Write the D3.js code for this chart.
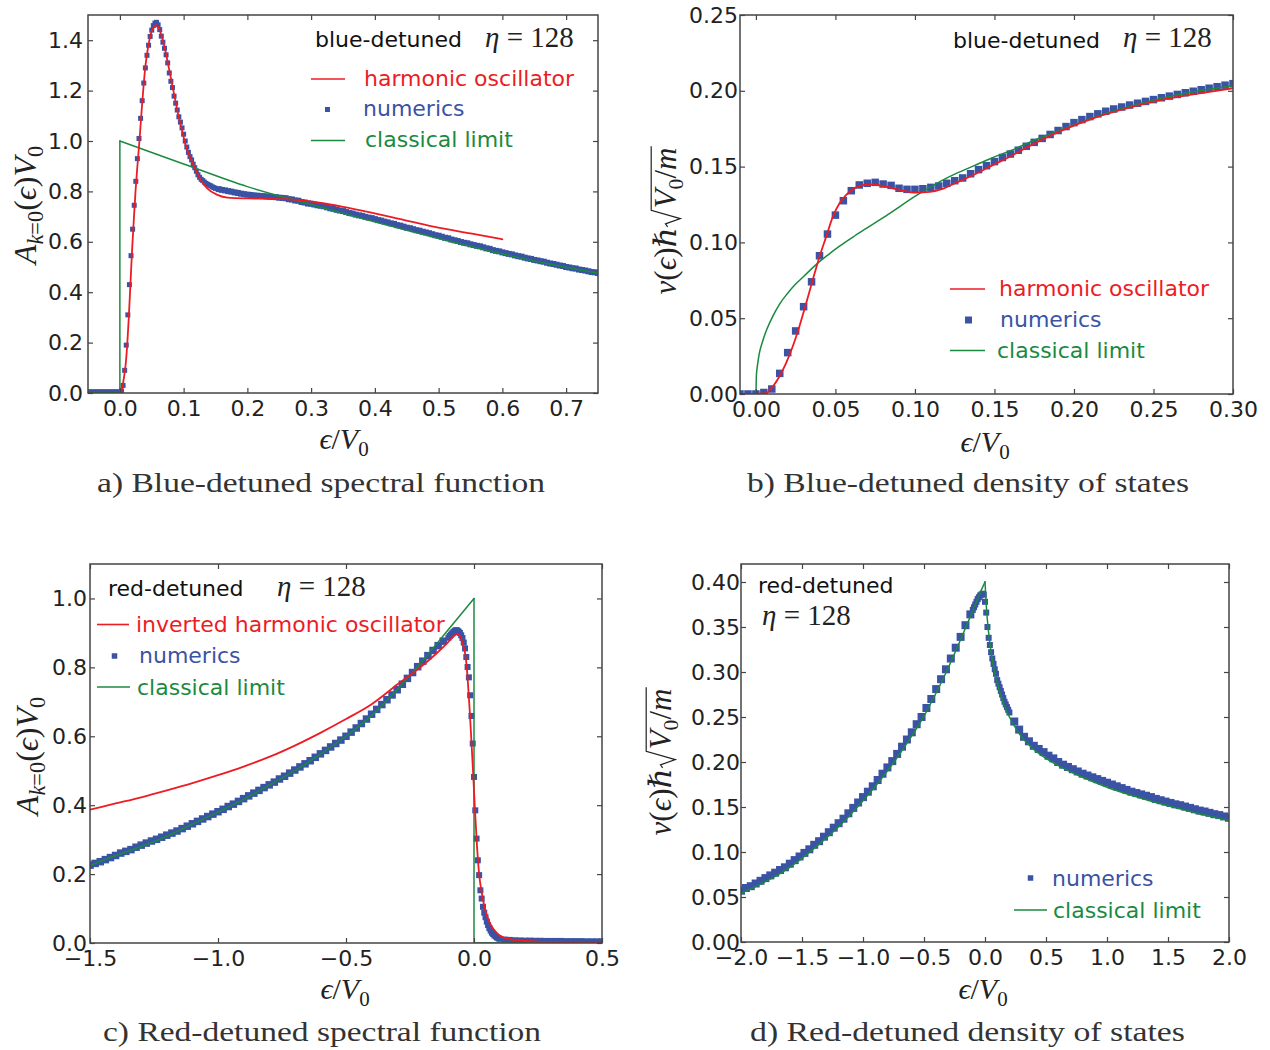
<!DOCTYPE html>
<html>
<head>
<meta charset="utf-8">
<title>Spectral function and density of states</title>
<script src="https://cdn.jsdelivr.net/npm/d3@7"></script>
<style>
  body { margin: 0; background: #fff; }
</style>
</head>
<body>
<script>
var RED = "#ed1c24", BLUE = "#3a53a4", GREEN = "#1a8a3f", INK = "#222", FRAME = "#444";
var SANS = "'DejaVu Sans', sans-serif";
var SERIF = "'Liberation Serif', 'DejaVu Serif', serif";

// ---------- a) blue-detuned spectral function ----------
var aXTicks = [0, 0.1, 0.2, 0.3, 0.4, 0.5, 0.6, 0.7];
var aYTicks = [0, 0.2, 0.4, 0.6, 0.8, 1.0, 1.2, 1.4];
// numerics, fine grid from -0.05 (step 0.0025)
var aNumFineStart = -0.05, aNumFineStep = 0.0025;
var aNumFine = [
  0.004, 0.004, 0.004, 0.004, 0.004, 0.004, 0.004, 0.004, 0.004, 0.004,
  0.004, 0.004, 0.004, 0.004, 0.004, 0.004, 0.004, 0.004, 0.004, 0.004,
  0.004, 0.008, 0.03, 0.09, 0.19, 0.31, 0.43, 0.545, 0.65, 0.745,
  0.84, 0.93, 1.01, 1.09, 1.16, 1.23, 1.29, 1.34, 1.38, 1.415,
  1.44, 1.458, 1.468, 1.471, 1.461, 1.442, 1.416, 1.392, 1.368, 1.342,
  1.31, 1.27, 1.237, 1.212, 1.178, 1.15, 1.123, 1.096, 1.075, 1.052,
  1.027, 1.0, 0.976, 0.955, 0.938, 0.925, 0.908, 0.894, 0.88, 0.866,
  0.856, 0.848, 0.843, 0.837, 0.832, 0.828, 0.825, 0.822, 0.818, 0.815,
  0.812
];
// numerics, coarse grid from 0.155 (step 0.005)
var aNumCoarseStart = 0.155, aNumCoarseStep = 0.005;
var aNumCoarse = [
  0.809, 0.806, 0.804, 0.801, 0.799, 0.796, 0.794, 0.791, 0.789, 0.787,
  0.786, 0.784, 0.783, 0.782, 0.781, 0.780, 0.779, 0.778, 0.777, 0.775,
  0.774, 0.773, 0.769, 0.768, 0.764, 0.763, 0.758, 0.756, 0.752, 0.751,
  0.748, 0.745, 0.743, 0.741, 0.737, 0.733, 0.731, 0.727, 0.724, 0.722,
  0.718, 0.714, 0.712, 0.708, 0.705, 0.703, 0.699, 0.696, 0.694, 0.690,
  0.686, 0.684, 0.680, 0.677, 0.673, 0.671, 0.666, 0.664, 0.660, 0.656,
  0.654, 0.650, 0.646, 0.644, 0.640, 0.637, 0.634, 0.630, 0.626, 0.624,
  0.620, 0.616, 0.614, 0.609, 0.606, 0.603, 0.599, 0.596, 0.594, 0.590,
  0.587, 0.584, 0.582, 0.578, 0.574, 0.572, 0.567, 0.564, 0.562, 0.558,
  0.555, 0.552, 0.550, 0.546, 0.543, 0.541, 0.537, 0.534, 0.532, 0.528,
  0.526, 0.523, 0.521, 0.517, 0.514, 0.512, 0.509, 0.506, 0.504, 0.500,
  0.498, 0.495, 0.494, 0.490, 0.488, 0.486, 0.483, 0.480, 0.479, 0.476
];
var aHarmonic = [
  [0, 0], [0.003, 0.012], [0.006, 0.055], [0.009, 0.111], [0.0115, 0.19], [0.014, 0.30],
  [0.0167, 0.44], [0.0193, 0.574], [0.022, 0.693], [0.0245, 0.799], [0.0272, 0.892],
  [0.03, 0.978], [0.0325, 1.063], [0.035, 1.15], [0.0377, 1.235], [0.0403, 1.302],
  [0.044, 1.368], [0.048, 1.421], [0.0524, 1.45], [0.057, 1.46], [0.0613, 1.447],
  [0.0665, 1.408], [0.0717, 1.354], [0.077, 1.288], [0.0822, 1.222], [0.0874, 1.156],
  [0.0928, 1.09], [0.098, 1.037], [0.103, 0.984], [0.111, 0.931], [0.119, 0.885],
  [0.127, 0.845], [0.137, 0.812], [0.153, 0.786], [0.169, 0.775], [0.2, 0.772],
  [0.23, 0.771], [0.26, 0.769], [0.282, 0.765], [0.313, 0.755], [0.35, 0.739],
  [0.387, 0.72], [0.44, 0.69], [0.492, 0.66], [0.55, 0.633], [0.6, 0.61]
];
var aClassical = [
  [-0.05, 0], [0, 0], [0, 1.0], [0.1, 0.909], [0.2, 0.819], [0.3, 0.748], [0.4, 0.679],
  [0.5, 0.613], [0.6, 0.552], [0.7, 0.499], [0.75, 0.475]
];

// ---------- b) blue-detuned density of states ----------
var bXTicks = [0, 0.05, 0.10, 0.15, 0.20, 0.25, 0.30];
var bYTicks = [0, 0.05, 0.10, 0.15, 0.20, 0.25];
var bNumStart = -0.01, bNumStep = 0.005;
var bNum = [
  0, 0, 0, 0.001,
  0.0033, 0.0136, 0.0273, 0.0416, 0.0576, 0.074, 0.0912, 0.1055, 0.118, 0.1275,
  0.1341, 0.1379, 0.139, 0.1396, 0.1385, 0.1376, 0.1357, 0.135, 0.135, 0.1354,
  0.1363, 0.1372, 0.139, 0.1407, 0.1425, 0.1453, 0.148, 0.1506, 0.1533, 0.156,
  0.1583, 0.1608, 0.1634, 0.166, 0.1686, 0.1712, 0.1738, 0.1764, 0.179, 0.181,
  0.183, 0.1848, 0.1865, 0.188, 0.1893, 0.1906, 0.1918, 0.193, 0.1942, 0.1954,
  0.1965, 0.1976, 0.1987, 0.1997, 0.2007, 0.2017, 0.2027, 0.2037, 0.2047
];
var bHarmonic = [
  [0, 0], [0.0063, 0.0005], [0.0105, 0.0048], [0.0147, 0.0114], [0.0189, 0.0202],
  [0.0231, 0.0312], [0.0273, 0.0444], [0.0316, 0.0598], [0.0357, 0.0752], [0.04, 0.0906],
  [0.0442, 0.1038], [0.0484, 0.117], [0.0526, 0.1258], [0.0568, 0.1313], [0.0631, 0.1363],
  [0.0715, 0.1383], [0.08, 0.1372], [0.0905, 0.1346], [0.101, 0.1328], [0.1094, 0.1333],
  [0.1178, 0.1355], [0.1263, 0.1395], [0.1367, 0.1445], [0.149, 0.151], [0.16, 0.1567],
  [0.17, 0.1625], [0.19, 0.1727], [0.2125, 0.182], [0.23, 0.1875], [0.255, 0.194],
  [0.28, 0.1985], [0.30, 0.2017]
];
var bClassical = [
  [-0.01, 0], [0, 0], [0.0003, 0.012], [0.001, 0.019], [0.002, 0.026], [0.004, 0.034],
  [0.007, 0.043], [0.0105, 0.051], [0.015, 0.0595], [0.02, 0.0665], [0.025, 0.0725],
  [0.03, 0.0775], [0.038, 0.0855], [0.045, 0.0915], [0.0526, 0.0975], [0.061, 0.1035],
  [0.0694, 0.1092], [0.077, 0.1143], [0.0842, 0.1192], [0.092, 0.1248], [0.101, 0.131],
  [0.108, 0.1355], [0.116, 0.1403], [0.126, 0.1455], [0.137, 0.1505], [0.148, 0.1555],
  [0.16, 0.1605], [0.18, 0.1695], [0.2, 0.1775], [0.22, 0.185], [0.24, 0.1912],
  [0.26, 0.1963], [0.28, 0.2002], [0.30, 0.2033]
];

// ---------- c) red-detuned spectral function ----------
var cXTicks = [-1.5, -1.0, -0.5, 0, 0.5];
var cYTicks = [0, 0.2, 0.4, 0.6, 0.8, 1.0];
var cNumLowStart = -1.5, cNumLowStep = 0.02;
var cNumLow = [
  0.226, 0.231, 0.236, 0.242, 0.248, 0.254, 0.261, 0.266, 0.271, 0.278,
  0.284, 0.290, 0.296, 0.301, 0.307, 0.313, 0.319, 0.325, 0.332, 0.339,
  0.346, 0.353, 0.360, 0.367, 0.374, 0.381, 0.388, 0.396, 0.403, 0.411,
  0.419, 0.427, 0.435, 0.443, 0.451, 0.459, 0.467, 0.476, 0.484, 0.493,
  0.502, 0.511, 0.520, 0.529, 0.539, 0.549, 0.559, 0.569, 0.579, 0.589,
  0.600, 0.612, 0.624, 0.637, 0.650, 0.664, 0.678, 0.692, 0.706, 0.720,
  0.735, 0.751, 0.768, 0.785, 0.802, 0.818, 0.834, 0.849, 0.863, 0.876
];
var cNumEdgeStart = -0.1, cNumEdgeStep = 0.005;
var cNumEdge = [
  0.886, 0.891, 0.895, 0.899, 0.903, 0.906, 0.908, 0.907, 0.904, 0.900,
  0.893, 0.885, 0.872, 0.855, 0.830, 0.801, 0.771, 0.719, 0.659, 0.579,
  0.482, 0.385, 0.303, 0.240, 0.197, 0.153, 0.129, 0.105, 0.088, 0.075,
  0.062, 0.052, 0.043, 0.036, 0.030, 0.026, 0.022, 0.019, 0.016, 0.014,
  0.012
];
var cNumHighStart = 0.12, cNumHighStep = 0.02;
var cNumHigh = [
  0.010, 0.009, 0.008, 0.0075, 0.007, 0.007, 0.0065, 0.0065, 0.006, 0.006,
  0.006, 0.006, 0.0055, 0.0055, 0.0055, 0.0055, 0.005, 0.005, 0.005, 0.005
];
var cInverted = [
  [-1.5, 0.387], [-1.4, 0.405], [-1.3, 0.423], [-1.2, 0.443], [-1.1, 0.464], [-1.0, 0.487],
  [-0.9, 0.512], [-0.8, 0.54], [-0.7, 0.573], [-0.6, 0.61], [-0.5, 0.65], [-0.4, 0.693],
  [-0.3, 0.75], [-0.2, 0.806], [-0.15, 0.838], [-0.1, 0.874], [-0.08, 0.89], [-0.065, 0.897],
  [-0.055, 0.892], [-0.044, 0.869], [-0.031, 0.821], [-0.025, 0.77], [-0.018, 0.69],
  [-0.01, 0.585], [-0.003, 0.487], [0.0035, 0.39], [0.011, 0.29], [0.02, 0.2],
  [0.031, 0.143], [0.044, 0.095], [0.063, 0.056], [0.089, 0.029], [0.129, 0.013],
  [0.194, 0.0065], [0.28, 0.003], [0.41, 0.001], [0.5, 0.0005]
];
var cClassical = [
  [-1.5, 0.225], [-1.4, 0.254], [-1.3, 0.28], [-1.2, 0.31], [-1.1, 0.345], [-1.0, 0.38],
  [-0.9, 0.417], [-0.8, 0.458], [-0.7, 0.5], [-0.6, 0.548], [-0.5, 0.6], [-0.4, 0.66],
  [-0.3, 0.735], [-0.2, 0.82], [-0.1, 0.91], [0, 1.0], [0, 0], [0.5, 0]
];

// ---------- d) red-detuned density of states ----------
var dXTicks = [-2.0, -1.5, -1.0, -0.5, 0, 0.5, 1.0, 1.5, 2.0];
var dYTicks = [0, 0.05, 0.10, 0.15, 0.20, 0.25, 0.30, 0.35, 0.40];
var dNumLowStart = -2.0, dNumLowStep = 0.04;
var dNumLow = [
  0.057, 0.060, 0.062, 0.065, 0.068, 0.071, 0.074, 0.077, 0.080, 0.083,
  0.087, 0.091, 0.095, 0.099, 0.103, 0.108, 0.112, 0.117, 0.122, 0.127,
  0.132, 0.137, 0.143, 0.149, 0.155, 0.161, 0.167, 0.173, 0.180, 0.187,
  0.194, 0.201, 0.209, 0.217, 0.225, 0.233, 0.242, 0.250, 0.260, 0.270,
  0.281, 0.292, 0.303, 0.315, 0.327, 0.339, 0.352, 0.364
];
var dNumPeakStart = -0.1, dNumPeakStep = 0.01;
var dNumPeak = [
  0.369, 0.372, 0.375, 0.378, 0.381, 0.383, 0.385, 0.386, 0.387, 0.386,
  0.378, 0.366, 0.350, 0.338, 0.330, 0.322, 0.315, 0.309, 0.303, 0.298,
  0.291, 0.287, 0.283, 0.279, 0.275, 0.271, 0.267, 0.264, 0.261, 0.258,
  0.255
];
var dNumHighStart = 0.24, dNumHighStep = 0.04;
var dNumHigh = [
  0.245, 0.236, 0.228, 0.223, 0.218, 0.2145, 0.211, 0.207, 0.204, 0.200,
  0.197, 0.1945, 0.192, 0.1895, 0.187, 0.185, 0.183, 0.181, 0.179, 0.177,
  0.175, 0.173, 0.171, 0.169, 0.167, 0.1655, 0.164, 0.1625, 0.161, 0.159,
  0.1575, 0.156, 0.1545, 0.153, 0.152, 0.1505, 0.149, 0.1475, 0.146, 0.145,
  0.1435, 0.142, 0.141, 0.1395, 0.138
];
var dClassical = [
  [-2, 0.054], [-1.8, 0.067], [-1.6, 0.083], [-1.4, 0.104], [-1.2, 0.128], [-1.0, 0.157],
  [-0.8, 0.19], [-0.6, 0.229], [-0.5, 0.251], [-0.4, 0.277], [-0.3, 0.305], [-0.2, 0.336],
  [-0.15, 0.352], [-0.1, 0.368], [-0.05, 0.385], [0, 0.40], [0, 0.40], [0.01, 0.375],
  [0.02, 0.357], [0.04, 0.332], [0.06, 0.313], [0.08, 0.299], [0.1, 0.288], [0.15, 0.266],
  [0.2, 0.25], [0.3, 0.228], [0.4, 0.214], [0.5, 0.204], [0.6, 0.196], [0.8, 0.183],
  [1.0, 0.172], [1.2, 0.163], [1.4, 0.155], [1.6, 0.148], [1.8, 0.141], [2.0, 0.135]
];

var svg = d3.select("body").append("svg").attr("width", 1270).attr("height", 1050);
svg.append("defs");

// a curve is split wherever two points share x (vertical jump or cusp)
function drawCurve(layer, pts, x, y, color, width) {
  var smooth = d3.line().x(function (d) { return x(d[0]); }).y(function (d) { return y(d[1]); })
    .curve(d3.curveMonotoneX);
  var straight = d3.line().x(function (d) { return x(d[0]); }).y(function (d) { return y(d[1]); });
  var run = [pts[0]], runs = [], jumps = [];
  for (var i = 1; i < pts.length; i++) {
    if (pts[i][0] === pts[i - 1][0]) {
      runs.push(run);
      jumps.push([pts[i - 1], pts[i]]);
      run = [pts[i]];
    } else run.push(pts[i]);
  }
  runs.push(run);
  runs.concat(jumps).forEach(function (r) {
    if (r.length < 2) return;
    layer.append("path")
      .attr("d", (jumps.indexOf(r) >= 0 ? straight : smooth)(r))
      .attr("fill", "none").attr("stroke", color).attr("stroke-width", width)
      .attr("stroke-linejoin", "round").attr("stroke-linecap", "round");
  });
}

function drawPanel(p) {
  var x = d3.scaleLinear().domain(p.xDomain).range([p.left, p.right]);
  var y = d3.scaleLinear().domain(p.yDomain).range([p.bottom, p.top]);
  var g = svg.append("g").attr("id", "panel_" + p.id);

  svg.select("defs").append("clipPath").attr("id", "clip_" + p.id)
    .append("rect").attr("x", p.left).attr("y", p.top)
    .attr("width", p.right - p.left).attr("height", p.bottom - p.top);
  var plot = g.append("g").attr("clip-path", "url(#clip_" + p.id + ")");

  p.numerics.forEach(function (s) {
    plot.append("g").attr("fill", BLUE)
      .selectAll("rect").data(s.ys).enter().append("rect")
      .attr("x", function (d, i) { return x(s.start + i * s.step) - s.size / 2; })
      .attr("y", function (d) { return y(d) - s.size / 2; })
      .attr("width", s.size).attr("height", s.size);
  });
  p.curves.forEach(function (c) { drawCurve(plot, c.pts, x, y, c.color, c.width); });

  function styleAxis(a) {
    a.select(".domain").remove();
    a.attr("font-family", SANS).attr("font-size", 22);
    a.selectAll("line").attr("stroke", FRAME).attr("stroke-width", 1.2);
    a.selectAll("text").attr("fill", INK);
  }
  g.append("g").attr("transform", "translate(0," + p.bottom + ")")
    .call(d3.axisBottom(x).tickValues(p.xTicks).tickFormat(d3.format(p.xFmt))
      .tickSizeInner(-5).tickSizeOuter(0).tickPadding(p.xPad))
    .call(styleAxis);
  g.append("g").attr("transform", "translate(0," + p.top + ")")
    .call(d3.axisTop(x).tickValues(p.xTicks).tickFormat("").tickSizeInner(-5).tickSizeOuter(0))
    .call(styleAxis);
  g.append("g").attr("transform", "translate(" + p.left + ",0)")
    .call(d3.axisLeft(y).tickValues(p.yTicks).tickFormat(d3.format(p.yFmt))
      .tickSizeInner(-5).tickSizeOuter(0).tickPadding(p.yPad))
    .call(styleAxis);
  g.append("g").attr("transform", "translate(" + p.right + ",0)")
    .call(d3.axisRight(y).tickValues(p.yTicks).tickFormat("").tickSizeInner(-5).tickSizeOuter(0))
    .call(styleAxis);

  g.append("rect").attr("x", p.left).attr("y", p.top)
    .attr("width", p.right - p.left).attr("height", p.bottom - p.top)
    .attr("fill", "none").attr("stroke", FRAME).attr("stroke-width", 1.5);
  return g;
}

// ---- text helpers ----
function mathText(parent, parts, size) {
  var t = parent.append("text").attr("font-family", SERIF).attr("font-size", size)
    .attr("fill", INK).attr("text-anchor", "middle");
  var shift = 0;
  parts.forEach(function (p) {
    var s = t.append("tspan").text(p.t);
    if (p.i) s.attr("font-style", "italic");
    var want = p.sub ? size * 0.22 : 0;
    if (p.sub) s.attr("font-size", size * 0.7);
    if (want !== shift) { s.attr("dy", want - shift); shift = want; }
    if (p.dx) s.attr("dx", p.dx * size);
  });
  return t;
}
var epsOverV = [{ t: "\u03f5", i: 1 }, { t: "/" }, { t: "V", i: 1 }, { t: "0", sub: 1 }];
var specLabel = [{ t: "A", i: 1 }, { t: "k", i: 1, sub: 1 }, { t: "=0", sub: 1 }, { t: "(" },
  { t: "\u03f5", i: 1 }, { t: ")" }, { t: "V", i: 1 }, { t: "0", sub: 1 }];
var dosLabel = [{ t: "\u03bd", i: 1 }, { t: "(" }, { t: "\u03f5", i: 1 }, { t: ")" }, { t: "\u210f" },
  { t: "V", i: 1, dx: 0.62 }, { t: "0", sub: 1 }, { t: "/" }, { t: "m", i: 1 }];

function xLabel(cx, base) {
  mathText(svg.append("g").attr("transform", "translate(" + cx + "," + base + ")"), epsOverV, 30);
}
function yLabel(bx, cy, parts, sqrt, size) {
  var g = svg.append("g").attr("transform", "translate(" + bx + "," + cy + ") rotate(-90)");
  var t = mathText(g, parts, size);
  if (sqrt) {
    var node = t.node();
    var xs = node.getStartPositionOfChar(5).x;
    var xe = node.getEndPositionOfChar(node.getNumberOfChars() - 1).x;
    g.append("path")
      .attr("d", "M" + (xs - 0.6 * size) + "," + (-0.27 * size) +
        "L" + (xs - 0.5 * size) + "," + (-0.34 * size) +
        "L" + (xs - 0.33 * size) + "," + (0.14 * size) +
        "L" + (xs - 0.06 * size) + "," + (-0.8 * size) +
        "L" + (xe + 0.04 * size) + "," + (-0.8 * size))
      .attr("fill", "none").attr("stroke", INK).attr("stroke-width", 1.2);
  }
}
function caption(cx, base, str, len) {
  svg.append("text").attr("x", cx).attr("y", base).attr("text-anchor", "middle")
    .attr("font-family", SERIF).attr("font-size", 28).attr("fill", "#333")
    .attr("textLength", len).attr("lengthAdjust", "spacingAndGlyphs").text(str);
}
function sansText(x, base, str, color) {
  svg.append("text").attr("x", x).attr("y", base).attr("font-family", SANS)
    .attr("font-size", 22).attr("fill", color).text(str);
}
function etaText(x, base) {
  var t = svg.append("text").attr("x", x).attr("y", base).attr("font-family", SERIF)
    .attr("font-size", 29).attr("fill", INK);
  t.append("tspan").attr("font-style", "italic").text("\u03b7");
  t.append("tspan").text(" = 128");
}
function legendLine(x1, x2, yy, color) {
  svg.append("line").attr("x1", x1).attr("x2", x2).attr("y1", yy).attr("y2", yy)
    .attr("stroke", color).attr("stroke-width", 1.6);
}
function legendSquare(cx, cy, size) {
  svg.append("rect").attr("x", cx - size / 2).attr("y", cy - size / 2)
    .attr("width", size).attr("height", size).attr("fill", BLUE);
}

// ---- panels ----
drawPanel({
  id: "a", left: 88, right: 598, top: 15, bottom: 393,
  xDomain: [-0.05, 0.75], yDomain: [0, 1.5], xTicks: aXTicks, yTicks: aYTicks,
  xFmt: ".1f", yFmt: ".1f", xPad: 7, yPad: 5,
  numerics: [
    { start: aNumFineStart, step: aNumFineStep, ys: aNumFine, size: 5 },
    { start: aNumCoarseStart, step: aNumCoarseStep, ys: aNumCoarse, size: 6 }
  ],
  curves: [
    { pts: aClassical, color: GREEN, width: 1.5 },
    { pts: aHarmonic, color: RED, width: 1.8 }
  ]
});
drawPanel({
  id: "b", left: 740, right: 1233, top: 15, bottom: 394,
  xDomain: [-0.01, 0.30], yDomain: [0, 0.25], xTicks: bXTicks, yTicks: bYTicks,
  xFmt: ".2f", yFmt: ".2f", xPad: 7, yPad: 2,
  numerics: [{ start: bNumStart, step: bNumStep, ys: bNum, size: 7.5 }],
  curves: [
    { pts: bClassical, color: GREEN, width: 1.5 },
    { pts: bHarmonic, color: RED, width: 1.8 }
  ]
});
drawPanel({
  id: "c", left: 90, right: 602, top: 564, bottom: 943,
  xDomain: [-1.5, 0.5], yDomain: [0, 1.1], xTicks: cXTicks, yTicks: cYTicks,
  xFmt: ".1f", yFmt: ".1f", xPad: 7, yPad: 3,
  numerics: [
    { start: cNumLowStart, step: cNumLowStep, ys: cNumLow, size: 7.5 },
    { start: cNumEdgeStart, step: cNumEdgeStep, ys: cNumEdge, size: 6 },
    { start: cNumHighStart, step: cNumHighStep, ys: cNumHigh, size: 6 }
  ],
  curves: [
    { pts: cClassical, color: GREEN, width: 1.5 },
    { pts: cInverted, color: RED, width: 1.8 }
  ]
});
drawPanel({
  id: "d", left: 741, right: 1229, top: 564, bottom: 942,
  xDomain: [-2, 2], yDomain: [0, 0.42], xTicks: dXTicks, yTicks: dYTicks,
  xFmt: ".1f", yFmt: ".2f", xPad: 7, yPad: 1,
  numerics: [
    { start: dNumLowStart, step: dNumLowStep, ys: dNumLow, size: 8 },
    { start: dNumPeakStart, step: dNumPeakStep, ys: dNumPeak, size: 6 },
    { start: dNumHighStart, step: dNumHighStep, ys: dNumHigh, size: 8 }
  ],
  curves: [{ pts: dClassical, color: GREEN, width: 1.5 }]
});

// ---- legends and annotations ----
sansText(315, 47, "blue-detuned", "#111");
etaText(485, 47);
legendLine(311, 345, 79, RED);   sansText(364, 86, "harmonic oscillator", RED);
legendSquare(327.5, 109.5, 5);   sansText(363, 116, "numerics", BLUE);
legendLine(311, 345, 140.5, GREEN); sansText(365, 147, "classical limit", GREEN);

sansText(953, 48, "blue-detuned", "#111");
etaText(1123, 47);
legendLine(950, 985, 289, RED);  sansText(999, 296, "harmonic oscillator", RED);
legendSquare(968.5, 320, 7);     sansText(1000, 327, "numerics", BLUE);
legendLine(950, 985, 350.5, GREEN); sansText(997, 358, "classical limit", GREEN);

sansText(108, 596, "red-detuned", "#111");
etaText(277, 596);
legendLine(97, 129, 624.5, RED); sansText(136, 632, "inverted harmonic oscillator", RED);
legendSquare(114.5, 656, 5.5);   sansText(139, 663, "numerics", BLUE);
legendLine(97, 130, 687, GREEN); sansText(137, 695, "classical limit", GREEN);

sansText(758, 593, "red-detuned", "#111");
etaText(762, 625);
legendSquare(1030.5, 878, 5.5);  sansText(1052, 886, "numerics", BLUE);
legendLine(1014, 1047, 910, GREEN); sansText(1053, 918, "classical limit", GREEN);

// ---- axis labels and captions ----
xLabel(344, 449);
xLabel(985, 452);
xLabel(345, 999);
xLabel(983, 999);
yLabel(36, 205, specLabel, false, 32);
yLabel(676, 221, dosLabel, true, 31);
yLabel(38, 756, specLabel, false, 32);
yLabel(671, 762, dosLabel, true, 31);

caption(321, 492, "a) Blue-detuned spectral function", 448);
caption(968, 492, "b) Blue-detuned density of states", 442);
caption(322, 1041, "c) Red-detuned spectral function", 438);
caption(967.5, 1041, "d) Red-detuned density of states", 435);
</script>
</body>
</html>
